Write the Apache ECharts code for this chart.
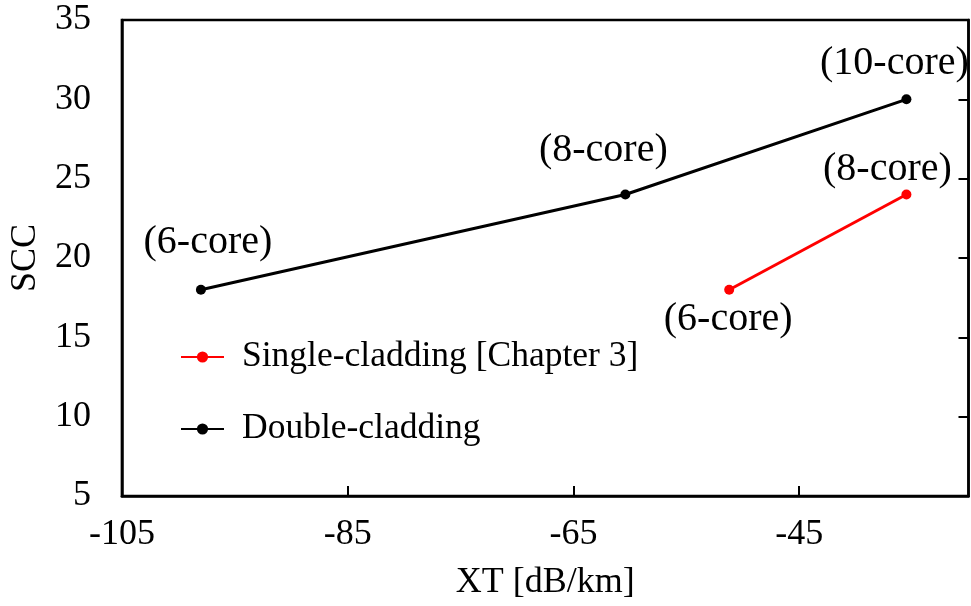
<!DOCTYPE html>
<html>
<head>
<meta charset="utf-8">
<script src="https://cdn.jsdelivr.net/npm/echarts@6/dist/echarts.min.js"></script>
<style>html,body{margin:0;padding:0;background:#fff}#c{width:971px;height:606px}</style>
</head>
<body>
<div id="c"></div>
<script>
// ---- data ----
const singleX = [-51.2, -35.5];
const singleY = [18, 24];
const singleLabels = ['(6-core)', '(8-core)'];
const doubleX = [-98, -60.4, -35.5];
const doubleY = [18, 24, 30];
const doubleLabels = ['(6-core)', '(8-core)', '(10-core)'];
const seriesNames = ['Single-cladding [Chapter 3]', 'Double-cladding'];
const xTicks = { min: -105, max: -30, interval: 20 };
const yTicks = { min: 5, max: 35, interval: 5 };

// ---- label placement (style, not data) ----
const singleOffsets = [[-1, 30], [-19, -25]];
const doubleOffsets = [[7, -47], [-22, -44], [-12, -36]];

const FONT = '"Liberation Serif", "Times New Roman", serif';

function build(xs, ys, labels, offsets) {
  return xs.map((x, i) => ({
    value: [x, ys[i]],
    label: {
      show: true,
      formatter: labels[i],
      position: 'inside',
      align: 'center',
      verticalAlign: 'middle',
      offset: offsets[i],
      fontFamily: FONT,
      fontSize: 40,
      color: '#000'
    }
  }));
}

const chart = echarts.init(document.getElementById('c'), null, { renderer: 'canvas' });
chart.setOption({
  animation: false,
  backgroundColor: '#fff',
  grid: {
    left: 120, right: 2.5, top: 20, bottom: 110,
    show: true, borderColor: '#000', borderWidth: 2.5, containLabel: false
  },
  legend: {
    orient: 'vertical',
    left: 175,
    top: 334,
    itemWidth: 43,
    itemHeight: 14,
    itemGap: 36,
    data: seriesNames,
    textStyle: { fontFamily: FONT, fontSize: 35.5, color: '#000', padding: [0, 0, 0, 13], lineHeight: 35 }
  },
  xAxis: {
    type: 'value',
    min: xTicks.min, max: xTicks.max, interval: xTicks.interval,
    name: 'XT [dB/km]',
    nameLocation: 'middle',
    nameGap: 69,
    nameTextStyle: { fontFamily: FONT, fontSize: 36, color: '#000' },
    axisLine: { show: true, onZero: false, lineStyle: { color: '#000', width: 2.5 } },
    axisTick: { show: true, inside: true, length: 10, lineStyle: { color: '#000', width: 2 } },
    axisLabel: { showMaxLabel: false, fontFamily: FONT, fontSize: 36, color: '#000', margin: 21 },
    splitLine: { show: false }
  },
  yAxis: [{
    type: 'value',
    min: yTicks.min, max: yTicks.max, interval: yTicks.interval,
    name: 'SCC',
    nameLocation: 'middle',
    nameGap: 72,
    nameTextStyle: { fontFamily: FONT, fontSize: 36, color: '#000' },
    axisLine: { show: true, onZero: false, lineStyle: { color: '#000', width: 2.5 } },
    axisTick: { show: false },
    axisLabel: { fontFamily: FONT, fontSize: 36, color: '#000', margin: 31 },
    splitLine: { show: false }
  }, {
    type: 'value',
    position: 'right',
    min: yTicks.min, max: yTicks.max, interval: yTicks.interval,
    axisLine: { show: true, onZero: false, lineStyle: { color: '#000', width: 2.5 } },
    axisTick: { show: true, inside: true, length: 10, lineStyle: { color: '#000', width: 2 } },
    axisLabel: { show: false },
    splitLine: { show: false }
  }],
  series: [{
    name: seriesNames[0],
    type: 'line',
    data: build(singleX, singleY, singleLabels, singleOffsets),
    symbol: 'circle',
    symbolSize: 10,
    itemStyle: { color: '#ff0000' },
    lineStyle: { color: '#ff0000', width: 3 },
    z: 3
  }, {
    name: seriesNames[1],
    type: 'line',
    data: build(doubleX, doubleY, doubleLabels, doubleOffsets),
    symbol: 'circle',
    symbolSize: 10,
    itemStyle: { color: '#000' },
    lineStyle: { color: '#000', width: 3 },
    z: 3
  }]
});
</script>
</body>
</html>
